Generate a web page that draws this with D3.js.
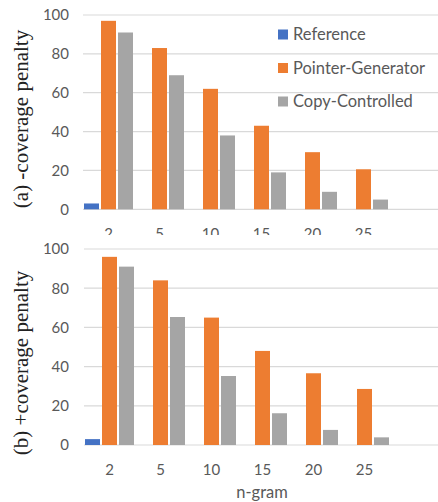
<!DOCTYPE html>
<html>
<head>
<meta charset="utf-8">
<script src="https://cdn.jsdelivr.net/npm/d3@7"></script>
<style>
  body { margin: 0; background: #fff; }
  svg { display: block; }
  .tick-label { font-family: Lato, "Open Sans", sans-serif; font-size: 15px; fill: #595959; }
  .legend-label { font-family: Lato, "Open Sans", sans-serif; font-size: 16.5px; fill: #595959; }
  .title { font-family: "Liberation Serif", "DejaVu Serif", serif; font-size: 21px; fill: #222; }
</style>
</head>
<body>
<div id="chart"></div>
<script>
// n-gram lengths and the three systems
const categories = ["2", "5", "10", "15", "20", "25"];
const series = ["Reference", "Pointer-Generator", "Copy-Controlled"];
const colors = ["#4472C4", "#ED7D31", "#A5A5A5"];
const yTicks = [0, 20, 40, 60, 80, 100];

// (a) without coverage penalty
const refA = [3, 0, 0, 0, 0, 0];
const pgA = [97, 83, 62, 43, 29.4, 20.6];
const ccA = [91, 69, 38, 19, 9, 5];

// (b) with coverage penalty
const refB = [3, 0, 0, 0, 0, 0];
const pgB = [96, 84, 65, 48, 36.6, 28.6];
const ccB = [91, 65.3, 35.2, 16.2, 7.7, 3.9];

const width = 438, height = 502;

const svg = d3.select('#chart').append('svg')
    .attr('width', width)
    .attr('height', height);

function drawPanel(opts) {
    const g = svg.append('g');
    if (opts.clip) {
        svg.append('clipPath').attr('id', opts.id + '-clip')
            .append('rect').attr('x', 0).attr('y', 0).attr('width', width).attr('height', opts.clip);
        g.attr('clip-path', `url(#${opts.id}-clip)`);
    }

    const x = d3.scaleBand()
        .domain(categories)
        .range([opts.left, opts.left + 51 * categories.length]);
    const xs = d3.scaleBand()
        .domain(series)
        .range([0, x.bandwidth()])
        .paddingInner(2 / 17)
        .paddingOuter(1 / 17);
    const y = d3.scaleLinear().domain([0, 100]).range([opts.y0, opts.y100]);

    // gridlines
    g.append('g').selectAll('line')
        .data(yTicks)
        .enter().append('line')
        .attr('x1', opts.left).attr('x2', width + 5)
        .attr('y1', d => y(d)).attr('y2', d => y(d))
        .attr('stroke', '#D9D9D9')
        .attr('stroke-width', 1.2);

    // y tick labels
    g.append('g').selectAll('text')
        .data(yTicks)
        .enter().append('text')
        .attr('class', 'tick-label')
        .attr('x', 69)
        .attr('y', d => y(d))
        .attr('dy', '0.36em')
        .attr('text-anchor', 'end')
        .text(d => d);

    // bars
    const rows = categories.map((c, i) => ({
        cat: c,
        vals: opts.data.map((s, j) => ({ name: series[j], value: s[i], color: colors[j] }))
    }));

    g.append('g').selectAll('g')
        .data(rows)
        .enter().append('g')
        .attr('transform', d => `translate(${x(d.cat)},0)`)
        .selectAll('rect')
        .data(d => d.vals.filter(v => v.value > 0))
        .enter().append('rect')
        .attr('x', d => xs(d.name))
        .attr('width', xs.bandwidth())
        .attr('y', d => y(d.value))
        .attr('height', d => y(0) - y(d.value))
        .attr('fill', d => d.color);

    // x tick labels
    g.append('g').selectAll('text')
        .data(categories)
        .enter().append('text')
        .attr('class', 'tick-label')
        .attr('x', d => x(d) + x.bandwidth() / 2)
        .attr('y', opts.y0 + 30)
        .attr('text-anchor', 'middle')
        .text(d => d);

    // rotated panel title
    g.append('text')
        .attr('class', 'title')
        .attr('transform', `translate(28,${opts.titleY}) rotate(-90)`)
        .attr('text-anchor', 'middle')
        .text(opts.title);

    return x;
}

drawPanel({
    id: 'a', left: 83, y0: 209.3, y100: 15, clip: 235,
    data: [refA, pgA, ccA], title: '(a) -coverage penalty', titleY: 119
});

drawPanel({
    id: 'b', left: 84, y0: 445, y100: 249,
    data: [refB, pgB, ccB], title: '(b) +coverage penalty', titleY: 363
});

// legend
const legend = svg.append('g').selectAll('g')
    .data(series)
    .enter().append('g')
    .attr('transform', (d, i) => `translate(278,${34.5 + i * 33.5})`);

legend.append('rect')
    .attr('x', 0).attr('y', -5)
    .attr('width', 10).attr('height', 10)
    .attr('fill', (d, i) => colors[i]);

legend.append('text')
    .attr('class', 'legend-label')
    .attr('x', 15)
    .attr('dy', '0.36em')
    .text(d => d);

// x axis title
svg.append('text')
    .attr('class', 'legend-label')
    .attr('x', 262)
    .attr('y', 498)
    .attr('text-anchor', 'middle')
    .text('n-gram');
</script>
</body>
</html>
